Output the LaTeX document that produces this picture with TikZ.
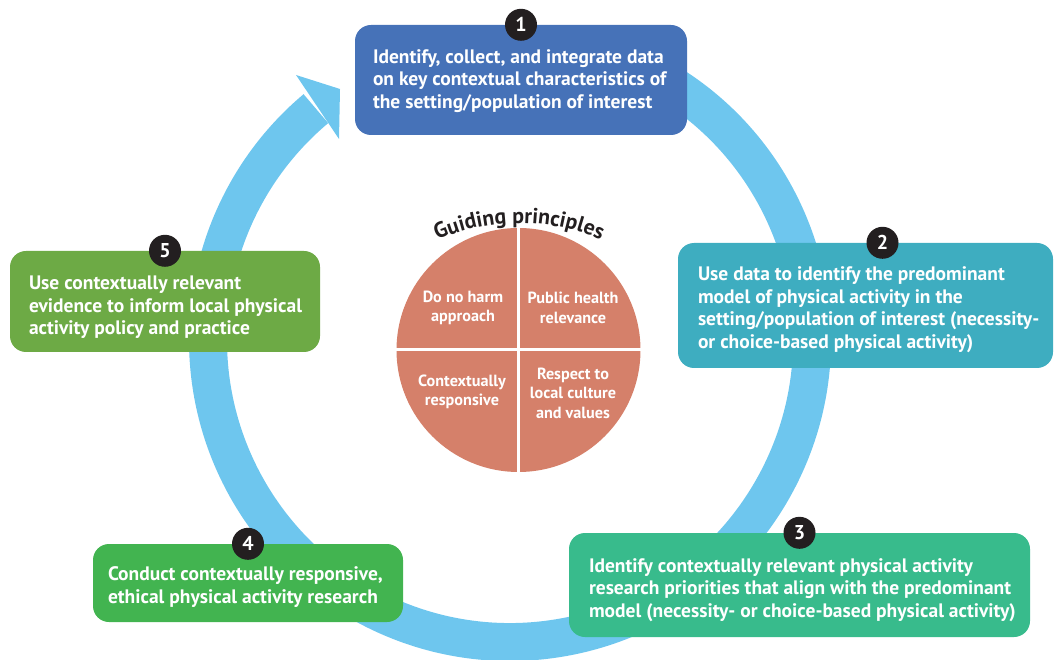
\documentclass[tikz,border=0pt]{standalone}
\usepackage{fontspec}
\setmainfont{PT Sans}
\usepackage{xcolor}
\usetikzlibrary{decorations.text}

\definecolor{ringblue}{HTML}{6EC6EE}
\definecolor{stageone}{HTML}{4672B8}
\definecolor{stagetwo}{HTML}{3EADC0}
\definecolor{stagethree}{HTML}{38BB8C}
\definecolor{stagefour}{HTML}{42B450}
\definecolor{stagefive}{HTML}{6DAA45}
\definecolor{piesalmon}{HTML}{D5806A}
\definecolor{badgeblack}{HTML}{231F20}

\begin{document}
\begin{tikzpicture}[x=1pt,y=1pt,
  stage/.style={rounded corners=16pt, inner sep=0pt},
  stagetext/.style={anchor=west, inner sep=0pt, align=left, text=white, font=\bfseries\fontsize{19.5}{22.5}\selectfont},
  badge/.style={circle, fill=badgeblack, text=white, minimum size=32pt, inner sep=0pt, font=\bfseries\fontsize{20}{20}\selectfont},
  quarter/.style={inner sep=0pt, align=center, text=white, font=\bfseries\fontsize{16.2}{19.5}\selectfont}]
\useasboundingbox (0,0) rectangle (1054,659);
% the cycle arrow
\coordinate (ringc) at (510,319);
\draw[ringblue, line width=38pt] ([shift=(62:302)]ringc) arc[start angle=62, end angle=-230, radius=302];
\fill[ringblue] (296,584) -- (340,570) -- (339,520) -- cycle;
% the five stages
\node[stage, fill=stageone, minimum width=332pt, minimum height=110pt] (s1) at (521,579) {};
\node[stage, fill=stagetwo, minimum width=375pt, minimum height=125pt] (s2) at (865.5,353.5) {};
\node[stage, fill=stagethree, minimum width=461pt, minimum height=104pt] (s3) at (799.5,74) {};
\node[stage, fill=stagefour, minimum width=310pt, minimum height=78pt] (s4) at (248,76) {};
\node[stage, fill=stagefive, minimum width=310pt, minimum height=101pt] (s5) at (165,357.5) {};
\node[stagetext] (t1) at ([xshift=18pt,yshift=-1pt]s1.west) {Identify, collect, and integrate data\\on key contextual characteristics of\\the setting/population of interest};
\node[stagetext] (t2) at ([xshift=20pt,yshift=-4pt]s2.west) {Use data to identify the predominant\\model of physical activity in the\\setting/population of interest (necessity-\\or choice-based physical activity)};
\node[stagetext] (t3) at ([xshift=20pt,yshift=-5pt]s3.west) {Identify contextually relevant physical activity\\research priorities that align with the predominant\\model (necessity- or choice-based physical activity)};
\node[stagetext] (t4) at ([xshift=15pt,yshift=-4pt]s4.west) {Conduct contextually responsive,\\ethical physical activity research};
\node[stagetext] (t5) at ([xshift=19pt,yshift=-6pt]s5.west) {Use contextually relevant\\evidence to inform local physical\\activity policy and practice};
\node[badge] (b1) at (s1.north) {1};
\node[badge] (b2) at ([xshift=17pt]s2.north) {2};
\node[badge] (b3) at (s3.north) {3};
\node[badge] (b4) at (s4.north) {4};
\node[badge] (b5) at (s5.north) {5};
% guiding principles
\coordinate (pc) at (518.5,309);
\fill[piesalmon] (pc) circle (122);
\draw[white, line width=3pt] ([yshift=123pt]pc) -- ([yshift=-123pt]pc);
\draw[white, line width=3pt] ([xshift=-123pt]pc) -- ([xshift=123pt]pc);
\node[quarter] (q1) at ([shift={(-55.5,42)}]pc) {Do no harm\\approach};
\node[quarter] (q2) at ([shift={(54.5,42)}]pc) {Public health\\relevance};
\node[quarter] (q3) at ([shift={(-56.5,-42)}]pc) {Contextually\\responsive};
\node[quarter] (q4) at ([shift={(54.5,-43)}]pc) {Respect to\\local culture\\and values};
\coordinate (gc) at (519,230);
\path[decorate, decoration={text along path, text align=center,
  text={|\color{badgeblack}\bfseries\fontsize{21.8}{21.8}\selectfont|Guiding principles}}]
  ([shift=(116:206)]gc) arc[start angle=116, end angle=64, radius=206];
\end{tikzpicture}
\end{document}
